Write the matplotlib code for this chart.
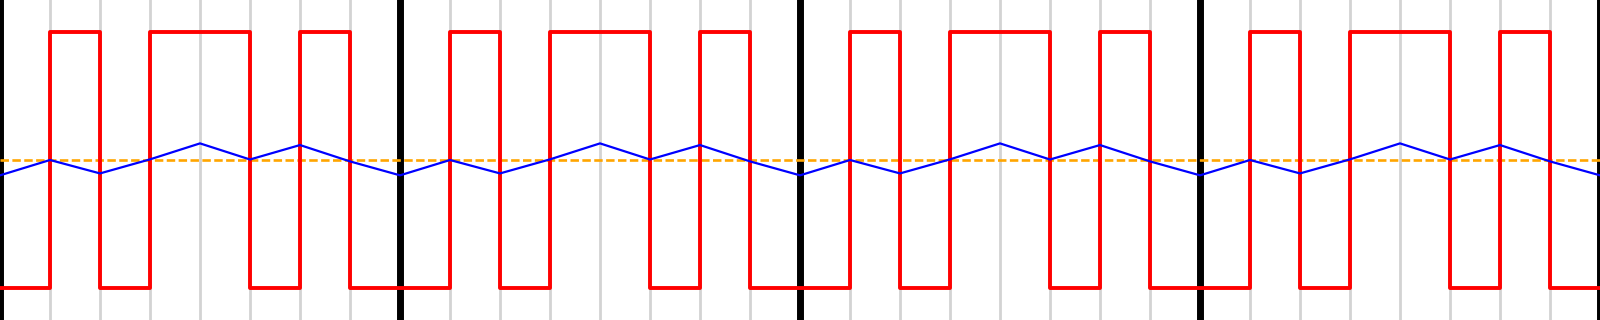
import matplotlib
matplotlib.use("Agg")
import matplotlib.pyplot as plt

# Time positions (one unit per bit)
t = list(range(33))

# Red square wave levels per unit interval (last value repeats for step end)
red = [-1, 1, -1, 1, 1, -1, 1, -1,
       -1, 1, -1, 1, 1, -1, 1, -1,
       -1, 1, -1, 1, 1, -1, 1, -1,
       -1, 1, -1, 1, 1, -1, 1, -1,
       -1]

# Blue line values at integer positions
blue = [-0.12, 0.0, -0.105, 0.005, 0.13, 0.004, 0.117, -0.011,
        -0.12, 0.0, -0.105, 0.005, 0.13, 0.004, 0.117, -0.011,
        -0.12, 0.0, -0.105, 0.005, 0.13, 0.004, 0.117, -0.011,
        -0.12, 0.0, -0.105, 0.005, 0.13, 0.004, 0.117, -0.011,
        -0.12]

baseline = 0.0
grid_x = [x for x in t if x % 8 != 0]
frame_x = [x for x in t if x % 8 == 0]

fig = plt.figure(figsize=(16, 3.2), dpi=100)
ax = fig.add_axes([0, 0, 1, 1])
ax.set_xlim(0, 32)
ax.set_ylim(-1.2524, 1.2524)
ax.axis("off")

for x in grid_x:
    ax.axvline(x, color="#d3d3d3", lw=2.0, zorder=1)
for x in frame_x:
    ax.axvline(x, color="black", lw=5.0, zorder=2)

ax.axhline(baseline, color="orange", lw=1.9, linestyle=(0, (3.2, 1.3)), zorder=3)
ax.step(t, red, where="post", color="red", lw=2.8, zorder=4)
ax.plot(t, blue, color="blue", lw=1.6, zorder=5)

fig.savefig("out.png", dpi=100)
